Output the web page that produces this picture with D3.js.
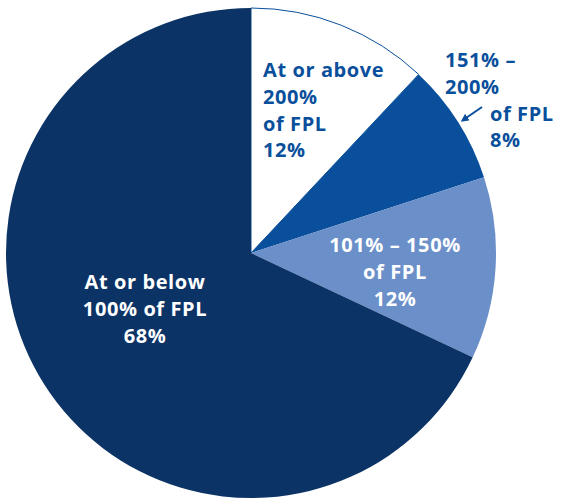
<!DOCTYPE html>
<html>
<head>
<meta charset="utf-8">
<script src="https://cdn.jsdelivr.net/npm/d3@7"></script>
<style>
  body { margin: 0; background: #fff; }
  text { font-family: "Open Sans", sans-serif; font-weight: 700; }
</style>
</head>
<body>
<div id="chart"></div>
<script>
// Dados
const categories = ["At or above 200% of FPL", "151% – 200% of FPL", "101% – 150% of FPL", "At or below 100% of FPL"];
const shares = [12, 8, 12, 68];
const labelLines = [
  ["At or above", "200%", "of FPL", "12%"],
  ["151% –", "200%", "of FPL", "8%"],
  ["101% – 150%", "of FPL", "12%"],
  ["At or below", "100% of FPL", "68%"]
];

const W = 561, H = 499;
const cx = 251, cy = 253, r = 245;
const colors = ["#ffffff", "#0a4f9b", "#6a8fc9", "#0c3366"];
const textColors = ["#0a4f9b", "#0a4f9b", "#ffffff", "#ffffff"];

const svg = d3.select("#chart")
  .append("svg")
  .attr("width", W)
  .attr("height", H);

const g = svg.append("g").attr("transform", `translate(${cx},${cy})`);

const pie = d3.pie().sort(null).value(d => d.v);
const arcs = pie(categories.map((c, i) => ({ c, v: shares[i], i })));
const arc = d3.arc().innerRadius(0).outerRadius(r);

g.selectAll("path")
  .data(arcs)
  .enter()
  .append("path")
  .attr("d", arc)
  .attr("fill", d => colors[d.data.i])
  .attr("stroke", d => d.data.i === 0 ? "#0a4f9b" : "none")
  .attr("stroke-width", 1);

// Posições dos rótulos (em coordenadas da página)
const labelPos = [
  { x: 263, y: 70, anchor: "start" },
  { x: 445, y: 60, anchor: "start", indent: [0, 0, 45, 45] },
  { x: 395, y: 245, anchor: "middle" },
  { x: 145, y: 282, anchor: "middle" }
];
const lineH = 26.8;

labelLines.forEach((lines, i) => {
  const p = labelPos[i];
  const t = svg.append("text")
    .attr("text-anchor", p.anchor)
    .attr("fill", textColors[i])
    .style("font-size", "20px")
    .style("letter-spacing", "0.6px");
  lines.forEach((s, j) => {
    t.append("tspan")
      .attr("x", p.x + (p.indent ? p.indent[j] : 0))
      .attr("y", p.y + j * lineH)
      .attr("dy", "0.35em")
      .text(s);
  });
});

// Seta
svg.append("defs").append("marker")
  .attr("id", "ah")
  .attr("viewBox", "0 0 10 10")
  .attr("refX", 2).attr("refY", 5)
  .attr("markerWidth", 4).attr("markerHeight", 4)
  .attr("orient", "auto")
  .append("path")
  .attr("d", "M0,0L10,5L0,10z")
  .attr("fill", "#0a4f9b");

svg.append("line")
  .attr("x1", 482).attr("y1", 107)
  .attr("x2", 466).attr("y2", 118)
  .attr("stroke", "#0a4f9b")
  .attr("stroke-width", 2)
  .attr("marker-end", "url(#ah)");
</script>
</body>
</html>
